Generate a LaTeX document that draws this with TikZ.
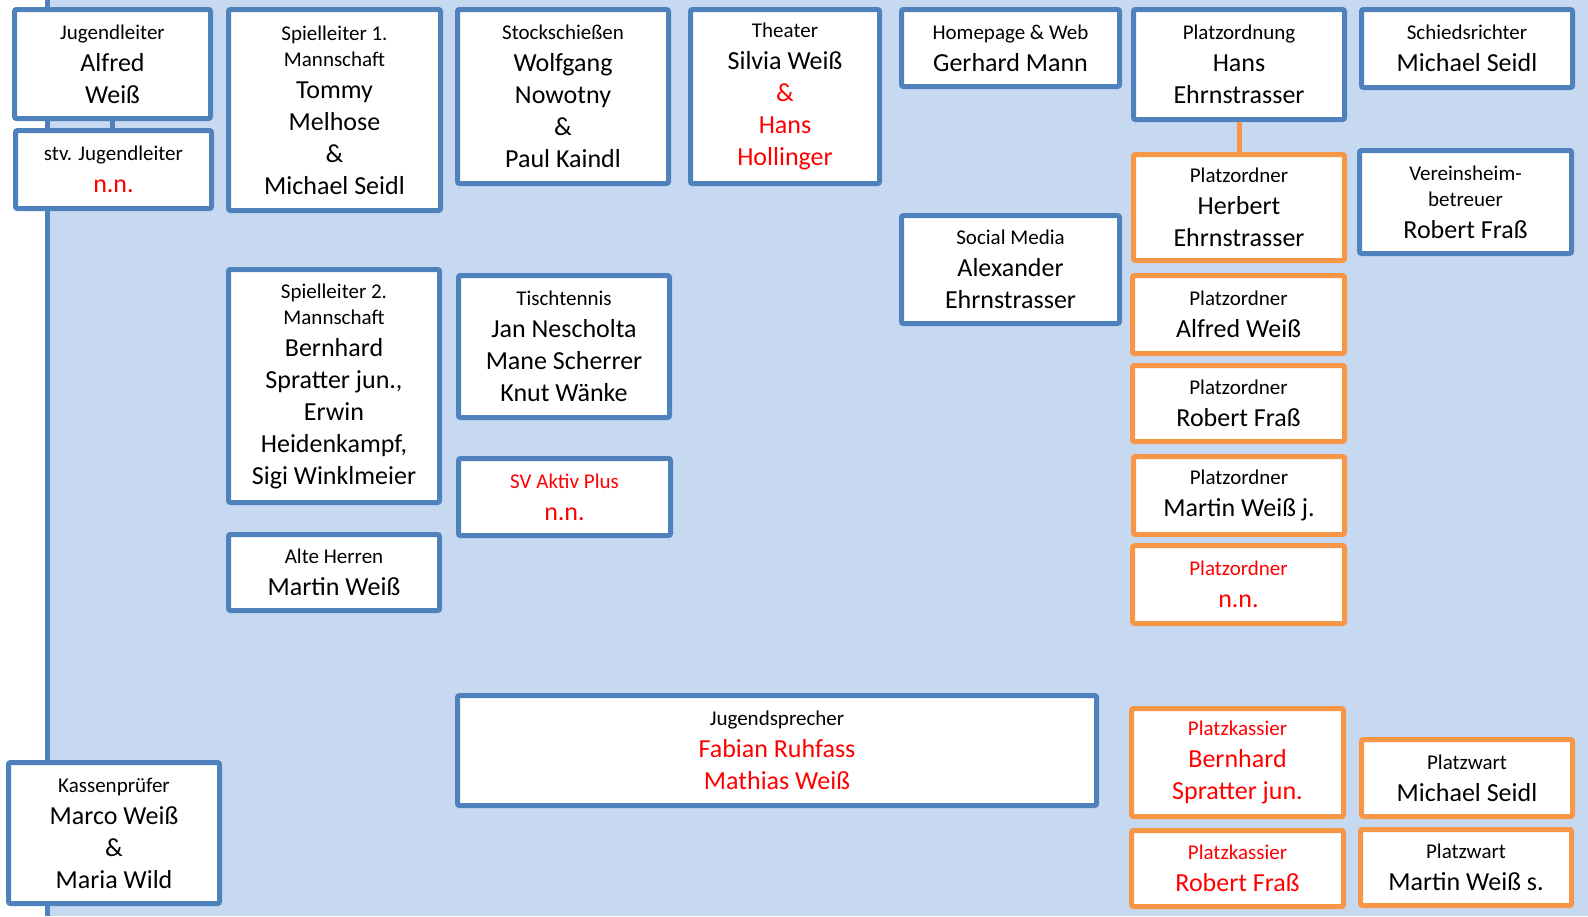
\documentclass[tikz,border=0pt]{standalone}
\usepackage{fontspec}
\setmainfont{Carlito}
\definecolor{obl}{HTML}{4F81BD}
\definecolor{ora}{HTML}{F79646}
\definecolor{bgb}{HTML}{C6D9F1}
\newcommand\smtxt[1]{{\fontsize{10.5}{13}\selectfont #1}}
\newcommand\redtxt[1]{\textcolor{red}{#1}}
\newcommand\placebox[7]{%
  \node[#2, minimum width={(#5-#3-5)*0.5pt}, minimum height={(#6-#4-5)*0.5pt}] (#1) at ({(#3+#5)/2},{(#4+#6)/2}) {#7};}
\tikzset{
  bbox/.style={draw=obl, line width=2.5pt, fill=white, rounded corners=1pt, align=center, inner sep=0pt, font=\fontsize{13}{16}\selectfont},
  obox/.style={bbox, draw=ora},
  conn/.style={draw=obl, line width=2.5pt},
  oconn/.style={draw=ora, line width=2.5pt}
}
\begin{document}
\begin{tikzpicture}[x=0.5pt,y=-0.5pt]
\useasboundingbox (0,0) rectangle (1588,916);
\fill[bgb] (47.5,0) rectangle (1588,916);
\coordinate (ltop) at (47.5,0);
\coordinate (lbot) at (47.5,916);
\draw[conn] (ltop) -- (lbot);

\placebox{jl}{bbox}{12}{7}{213}{121}{\smtxt{Jugendleiter}\\Alfred\\Weiß}
\placebox{stv}{bbox}{13}{128}{214}{211}{\smtxt{stv. Jugendleiter}\\\redtxt{n.n.}}
\placebox{sp1}{bbox}{226}{7}{443}{213}{\smtxt{Spielleiter 1.}\\[-3pt]\smtxt{Mannschaft}\\Tommy\\Melhose\\\&\\Michael Seidl}
\placebox{stock}{bbox}{455}{7}{671}{186}{\smtxt{Stockschießen}\\Wolfgang\\Nowotny\\\&\\Paul Kaindl}
\placebox{theater}{bbox}{688}{7}{882}{186}{\smtxt{Theater}\\Silvia Weiß\\\redtxt{\&}\\\redtxt{Hans}\\\redtxt{Hollinger}}
\placebox{home}{bbox}{899}{7}{1122}{89}{\smtxt{Homepage \& Web}\\Gerhard Mann}
\placebox{platzo}{bbox}{1131}{7}{1347}{122}{\smtxt{Platzordnung}\\Hans\\Ehrnstrasser}
\placebox{schieds}{bbox}{1359}{7}{1575}{90}{\smtxt{Schiedsrichter}\\Michael Seidl}
\placebox{herbert}{obox}{1131}{152}{1347}{263}{\smtxt{Platzordner}\\Herbert\\Ehrnstrasser}
\placebox{verein}{bbox}{1357}{148}{1574}{256}{\smtxt{Vereinsheim-}\\[-3pt]\smtxt{betreuer}\\Robert Fraß}
\placebox{social}{bbox}{899}{213}{1122}{326}{\smtxt{Social Media}\\Alexander\\Ehrnstrasser}
\placebox{sp2}{bbox}{226}{267}{442}{505}{\smtxt{Spielleiter 2.}\\[-3pt]\smtxt{Mannschaft}\\Bernhard\\Spratter jun.,\\Erwin\\Heidenkampf,\\Sigi Winklmeier}
\placebox{tisch}{bbox}{456}{273}{672}{420}{\smtxt{Tischtennis}\\Jan Nescholta\\Mane Scherrer\\Knut Wänke}
\placebox{sv}{bbox}{456}{456}{673}{538}{\smtxt{\redtxt{SV Aktiv Plus}}\\\redtxt{n.n.}}
\placebox{alte}{bbox}{226}{532}{442}{613}{\smtxt{Alte Herren}\\Martin Weiß}
\placebox{poalfred}{obox}{1130}{273}{1347}{356}{\smtxt{Platzordner}\\Alfred Weiß}
\placebox{porobert}{obox}{1130}{363}{1347}{444}{\smtxt{Platzordner}\\Robert Fraß}
\placebox{pomartin}{obox}{1131}{454}{1347}{537}{\smtxt{Platzordner}\\Martin Weiß j.}
\placebox{ponn}{obox}{1130}{543}{1347}{626}{\smtxt{\redtxt{Platzordner}}\\\redtxt{n.n.}}
\placebox{jugsp}{bbox}{455}{693}{1099}{808}{\smtxt{Jugendsprecher}\\\redtxt{Fabian Ruhfass}\\\redtxt{Mathias Weiß}}
\placebox{pkbern}{obox}{1129}{706}{1346}{819}{\smtxt{\redtxt{Platzkassier}}\\\redtxt{Bernhard}\\\redtxt{Spratter jun.}}
\placebox{pkrob}{obox}{1129}{828}{1346}{909}{\smtxt{\redtxt{Platzkassier}}\\\redtxt{Robert Fraß}}
\placebox{pwmich}{obox}{1359}{737}{1575}{819}{\smtxt{Platzwart}\\Michael Seidl}
\placebox{pwmart}{obox}{1358}{827}{1574}{908}{\smtxt{Platzwart}\\Martin Weiß s.}
\placebox{kasse}{bbox}{6}{760}{222}{906}{\smtxt{Kassenprüfer}\\Marco Weiß\\\&\\Maria Wild}

\draw[conn] (jl.south) -- (jl.south |- stv.north);
\draw[oconn] (platzo.south) -- (herbert.north);
\end{tikzpicture}
\end{document}
